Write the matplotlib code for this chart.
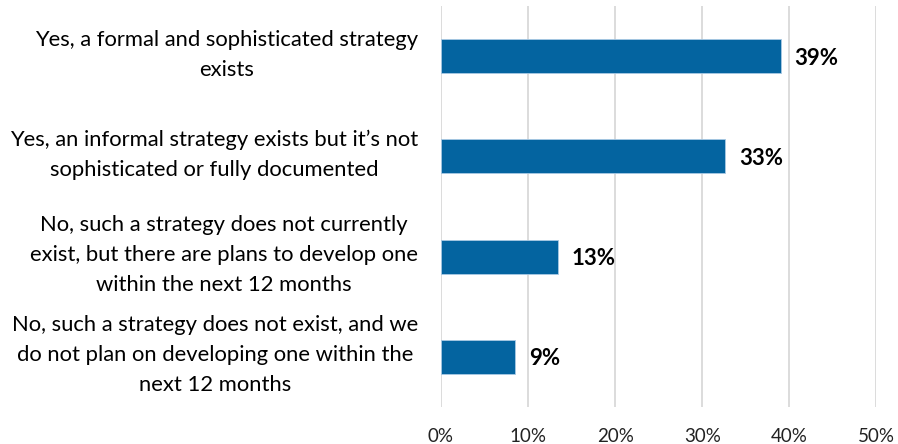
import matplotlib.pyplot as plt
import matplotlib.transforms as mtransforms
import numpy as np

plt.rcParams['font.family'] = ['Lato', 'DejaVu Sans']

categories = [
    "Yes, a formal and sophisticated strategy\nexists",
    "Yes, an informal strategy exists but it\u2019s not\nsophisticated or fully documented",
    "No, such a strategy does not currently\nexist, but there are plans to develop one\nwithin the next 12 months",
    "No, such a strategy does not exist, and we\ndo not plan on developing one within the\nnext 12 months",
]
values = [39.0, 32.6, 13.4, 8.5]
value_labels = ["39%", "33%", "13%", "9%"]
x_ticks = [0, 10, 20, 30, 40, 50]

fig = plt.figure(figsize=(8.98, 4.44), dpi=100)
ax = fig.add_axes([0.491, 0.0833, 0.485, 0.903])

y = np.arange(len(categories))
ax.barh(y, values, height=0.34, color='#0464A0', edgecolor='#A9C9E4', linewidth=0.6, zorder=3)
for yi, v, lab in zip(y, values, value_labels):
    ax.text(v + 1.6, yi, lab, va='center_baseline', ha='left', fontsize=16, fontweight='bold', color='#000000')

ax.set_ylim(len(categories) - 0.5, -0.5)
ax.set_xlim(0, 50)
ax.set_xticks(x_ticks)
ax.set_xticklabels([f"{t}%" for t in x_ticks], fontsize=13.5, color='#222222')
ax.set_yticks(y)
ax.set_yticklabels([])

# category labels: right edge ~23px left of the axis, nudged up a little
lab_tr = ax.get_yaxis_transform() + mtransforms.ScaledTranslation(-0.23, 0.015, fig.dpi_scale_trans)
for yi, cat in zip(y, categories):
    ax.text(0, yi, cat, transform=lab_tr, ha='right', va='center', multialignment='center',
            fontsize=15.8, linespacing=1.63, color='#000000')

ax.xaxis.grid(True, color='#D9D9D9', linewidth=1.3, zorder=0)
ax.tick_params(axis='both', length=0)
ax.tick_params(axis='x', pad=15)
for s in ax.spines.values():
    s.set_visible(False)

fig.savefig("out.png", dpi=100)
